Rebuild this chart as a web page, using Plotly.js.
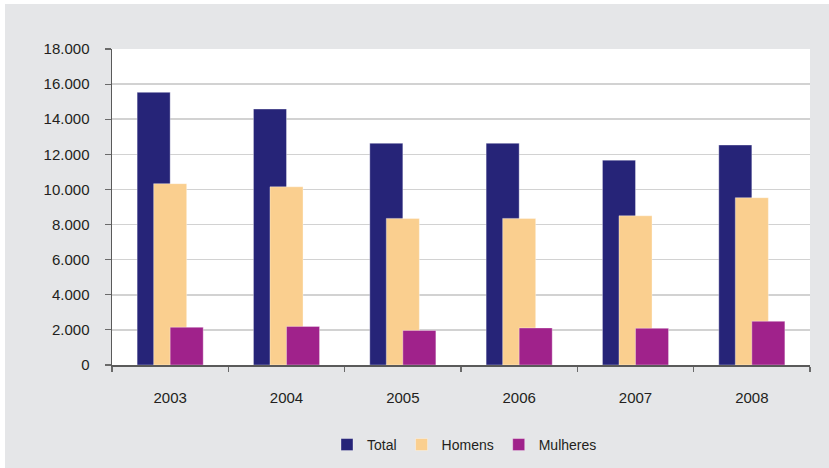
<!DOCTYPE html>
<html>
<head>
<meta charset="utf-8">
<script src="https://cdn.plot.ly/plotly-3.0.1.min.js"></script>
<style>html,body{margin:0;padding:0;background:#fff;}#chart{width:829px;height:468px;}</style>
</head>
<body>
<div id="chart"></div>
<script>
const years = ['2003', '2004', '2005', '2006', '2007', '2008'];
const total = [15530, 14580, 12630, 12630, 11670, 12530];
const homens = [10330, 10150, 8350, 8350, 8500, 9530];
const mulheres = [2150, 2200, 1970, 2110, 2090, 2490];

const W = 0.284;
const edge = 'rgba(255,255,255,0.35)';
const traces = [
  {type: 'bar', name: 'Total', x: years, y: total, width: W, offset: -W,
   marker: {color: '#262478', line: {color: edge, width: 1}}},
  {type: 'bar', name: 'Homens', x: years, y: homens, width: W, offset: -W / 2,
   marker: {color: '#facf8f', line: {color: edge, width: 1}}},
  {type: 'bar', name: 'Mulheres', x: years, y: mulheres, width: W, offset: 0,
   marker: {color: '#a0228b', line: {color: edge, width: 1}}}
];

const F = {family: '"Liberation Sans", Arial, sans-serif', size: 15, color: '#231f20'};
const layout = {
  width: 829, height: 468,
  margin: {l: 112, r: 19, t: 49, b: 103, autoexpand: false},
  paper_bgcolor: '#e5e6e8',
  plot_bgcolor: '#ffffff',
  barmode: 'overlay',
  separators: ',.',
  font: F,
  showlegend: true,
  hovermode: false,
  xaxis: {
    type: 'category',
    showline: true, linecolor: '#5a5a5a', linewidth: 1.5,
    ticks: 'outside', tickson: 'boundaries', ticklen: 5, tickcolor: '#6a6a6a', tickwidth: 1.2,
    ticklabelstandoff: 18,
    showgrid: false, zeroline: false,
    tickfont: F, automargin: false
  },
  yaxis: {
    range: [0, 18000], dtick: 2000, tickformat: ',d',
    showline: true, linecolor: '#5a5a5a', linewidth: 1.5,
    ticks: 'outside', ticklen: 6, tickcolor: '#6a6a6a', tickwidth: 1.2,
    ticklabelstandoff: 12,
    showgrid: true, gridcolor: '#d2d2d2', gridwidth: 1.5,
    zeroline: false,
    tickfont: F, automargin: false
  },
  legend: {
    orientation: 'h', x: 0.505, xanchor: 'center', y: -0.253, yanchor: 'middle',
    bgcolor: 'rgba(0,0,0,0)', font: {family: F.family, size: 14, color: F.color}, traceorder: 'normal'
  },
  shapes: [
    {type: 'rect', xref: 'paper', yref: 'paper', x0: -0.17, x1: -0.1533, y0: -0.35, y1: 1.2,
     fillcolor: '#ffffff', line: {width: 0}, layer: 'above'},
    {type: 'rect', xref: 'paper', yref: 'paper', x0: -0.17, x1: 1.05, y0: 1.1424, y1: 1.2,
     fillcolor: '#ffffff', line: {width: 0}, layer: 'above'}
  ]
};

Plotly.newPlot('chart', traces, layout, {staticPlot: true, displayModeBar: false});
</script>
</body>
</html>
